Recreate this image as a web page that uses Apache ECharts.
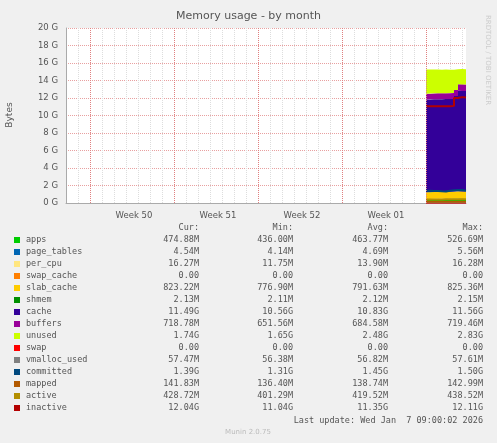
<!DOCTYPE html>
<html><head><meta charset="utf-8">
<script src="https://cdn.jsdelivr.net/npm/echarts@6/dist/echarts.min.js"></script>
<style>html,body{margin:0;background:#f0f0f0}#c{width:497px;height:443px}</style>
</head><body><div id="c"></div>
<script>
// 101 time slots on the x axis; data only exists from slot 90 on
const slotCount = 101;
const firstSlot = 90;
const weekSlots = [17, 38, 59, 80];
const weekLabels = ['Week 50', 'Week 51', 'Week 52', 'Week 01'];
const weekBounds = [6, 27, 48, 69, 90];
// values in GB
const apps        = [0.44, 0.45, 0.46, 0.46, 0.47, 0.47, 0.48, 0.50, 0.52, 0.47, 0.47];
const pageTables  = [0.004, 0.004, 0.005, 0.005, 0.005, 0.005, 0.005, 0.005, 0.005, 0.004, 0.004];
const perCpu      = [0.012, 0.012, 0.013, 0.014, 0.014, 0.014, 0.015, 0.016, 0.016, 0.016, 0.016];
const swapCache   = [0, 0, 0, 0, 0, 0, 0, 0, 0, 0, 0];
const slabCache   = [0.78, 0.78, 0.78, 0.79, 0.79, 0.79, 0.79, 0.80, 0.81, 0.82, 0.82];
const shmem       = [0.002, 0.002, 0.002, 0.002, 0.002, 0.002, 0.002, 0.002, 0.002, 0.002, 0.002];
const cache       = [10.6, 10.6, 10.6, 10.6, 10.6, 10.6, 10.6, 10.9, 11.5, 11.5, 11.5];
const buffers     = [0.66, 0.66, 0.67, 0.67, 0.67, 0.67, 0.68, 0.70, 0.72, 0.72, 0.72];
const unused      = [2.75, 2.74, 2.72, 2.70, 2.70, 2.69, 2.66, 2.35, 1.74, 1.74, 1.74];
const swap        = [0, 0, 0, 0, 0, 0, 0, 0, 0, 0, 0];
const vmallocUsed = [0.056, 0.056, 0.056, 0.057, 0.057, 0.057, 0.057, 0.057, 0.058, 0.057, 0.057];
const committed   = [1.40, 1.38, 1.36, 1.33, 1.31, 1.40, 1.45, 1.50, 1.48, 1.40, 1.39];
const mapped      = [0.137, 0.137, 0.137, 0.138, 0.138, 0.139, 0.140, 0.141, 0.143, 0.142, 0.142];
const active      = [0.40, 0.40, 0.41, 0.41, 0.42, 0.42, 0.42, 0.43, 0.44, 0.43, 0.43];
const inactive    = [11.05, 11.05, 11.05, 11.05, 11.05, 11.05, 11.1, 12.0, 12.1, 12.05, 12.04];

const rows = [
  ['apps', '#00cc00', apps, '474.88M', '436.00M', '463.77M', '526.69M', true],
  ['page_tables', '#0066b3', pageTables, '4.54M', '4.14M', '4.69M', '5.56M', true],
  ['per_cpu', '#ffe680', perCpu, '16.27M', '11.75M', '13.90M', '16.28M', true],
  ['swap_cache', '#ff8000', swapCache, '0.00', '0.00', '0.00', '0.00', true],
  ['slab_cache', '#ffcc00', slabCache, '823.22M', '776.90M', '791.63M', '825.36M', true],
  ['shmem', '#008f00', shmem, '2.13M', '2.11M', '2.12M', '2.15M', true],
  ['cache', '#330099', cache, '11.49G', '10.56G', '10.83G', '11.56G', true],
  ['buffers', '#990099', buffers, '718.78M', '651.56M', '684.58M', '719.46M', true],
  ['unused', '#ccff00', unused, '1.74G', '1.65G', '2.48G', '2.83G', true],
  ['swap', '#ff0000', swap, '0.00', '0.00', '0.00', '0.00', false],
  ['vmalloc_used', '#808080', vmallocUsed, '57.47M', '56.38M', '56.82M', '57.61M', false],
  ['committed', '#00487d', committed, '1.39G', '1.31G', '1.45G', '1.50G', false],
  ['mapped', '#b35a00', mapped, '141.83M', '136.40M', '138.74M', '142.99M', false],
  ['active', '#b38f00', active, '428.72M', '401.29M', '419.52M', '438.52M', false],
  ['inactive', '#b30000', inactive, '12.04G', '11.04G', '11.35G', '12.11G', false]
];

const slots = Array.from({ length: slotCount }, (_, i) => String(i));
const pad = vals => slots.map((_, i) => i >= firstSlot ? vals[i - firstSlot] : '-');

const mono = 'DejaVu Sans Mono';
const series = rows.map(r => ({
  name: r[0], type: 'line', step: 'end', symbol: 'none',
  stack: r[7] ? 'mem' : undefined,
  data: pad(r[2]),
  lineStyle: { color: r[1], width: r[7] ? 0 : 2 },
  areaStyle: r[7] ? { color: r[1], opacity: 1 } : undefined,
  itemStyle: { color: r[1] },
  z: r[7] ? 2 : 3
}));
series[0].markLine = {
  silent: true, symbol: 'none', label: { show: false },
  lineStyle: { color: '#e08080', type: 'dotted', width: 1 },
  data: weekBounds.map(v => ({ xAxis: String(v) }))
};

const graphic = [];
const hdrY = 228, rowY0 = 240, rowH = 12;
[['Cur:', 199], ['Min:', 293], ['Avg:', 388], ['Max:', 483]].forEach(h =>
  graphic.push({ type: 'text', x: h[1], y: hdrY, style: { text: h[0], font: '8.5px ' + mono, fill: '#555', align: 'right', verticalAlign: 'middle' } }));
rows.forEach((r, i) => {
  const y = rowY0 + i * rowH;
  graphic.push({ type: 'rect', shape: { x: 14, y: y - 3, width: 6, height: 6 }, style: { fill: r[1] } });
  graphic.push({ type: 'text', x: 26, y: y, style: { text: r[0], font: '8.5px ' + mono, fill: '#555', verticalAlign: 'middle' } });
  [199, 293, 388, 483].forEach((x, j) =>
    graphic.push({ type: 'text', x: x, y: y, style: { text: r[3 + j], font: '8.5px ' + mono, fill: '#555', align: 'right', verticalAlign: 'middle' } }));
});
graphic.push({ type: 'text', x: 483, y: 421, style: { text: 'Last update: Wed Jan  7 09:00:02 2026', font: '8.5px ' + mono, fill: '#555', align: 'right', verticalAlign: 'middle' } });
graphic.push({ type: 'text', x: 248, y: 432, style: { text: 'Munin 2.0.75', font: '7px DejaVu Sans', fill: '#bbb', align: 'center', verticalAlign: 'middle' } });
graphic.push({ type: 'text', x: 10, y: 115, rotation: Math.PI / 2, style: { text: 'Bytes', font: '9px DejaVu Sans', fill: '#555', align: 'center', verticalAlign: 'middle' } });
graphic.push({ type: 'text', x: 488, y: 60, rotation: -Math.PI / 2, style: { text: 'RRDTOOL / TOBI OETIKER', font: '7px DejaVu Sans', fill: '#ccc', align: 'center', verticalAlign: 'middle' } });

const chart = echarts.init(document.getElementById('c'));
chart.setOption({
  backgroundColor: '#f0f0f0',
  animation: false,
  title: { text: 'Memory usage - by month', left: 'center', top: 6, textStyle: { fontFamily: 'DejaVu Sans', fontSize: 11, fontWeight: 'normal', color: '#555' } },
  grid: { left: 66, right: 31, top: 28, bottom: 240, backgroundColor: '#fff', show: true, borderWidth: 0 },
  xAxis: {
    type: 'category', data: slots, boundaryGap: false,
    axisLine: { lineStyle: { color: '#aaa' } }, axisTick: { show: false },
    splitLine: { show: true, interval: i => i % 3 === 0, lineStyle: { color: '#ddd', type: 'dotted' } },
    axisLabel: {
      interval: i => weekSlots.includes(i),
      formatter: (v, i) => weekLabels[weekSlots.indexOf(Number(v))] || '',
      fontFamily: 'DejaVu Sans', fontSize: 8.5, color: '#555'
    }
  },
  yAxis: {
    type: 'value', min: 0, max: 20, interval: 2,
    axisLine: { show: true, lineStyle: { color: '#aaa' } }, axisTick: { show: false },
    splitLine: { lineStyle: { color: '#e8a0a0', type: 'dotted' } },
    axisLabel: { formatter: v => v + ' G', fontFamily: 'DejaVu Sans', fontSize: 8.5, color: '#555' }
  },
  series: series,
  graphic: graphic
});
</script></body></html>
